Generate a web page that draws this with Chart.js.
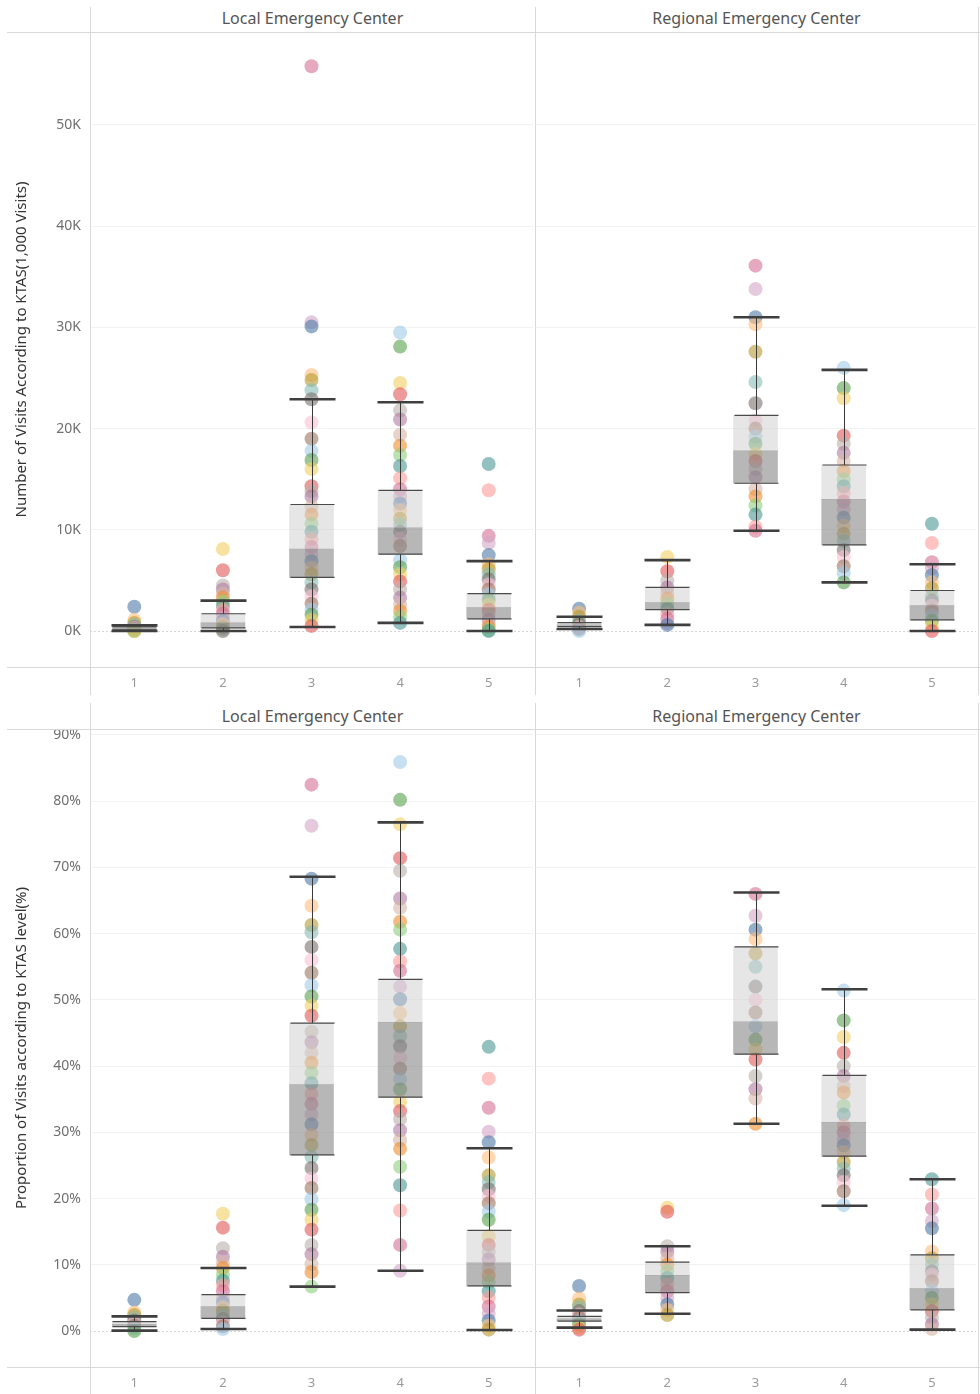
<!DOCTYPE html>
<html>
<head>
<meta charset="utf-8">
<script src="https://cdn.jsdelivr.net/npm/chart.js@4.4.1/dist/chart.umd.min.js"></script>
<style>
  body { margin: 0; background: #fff; font-family: 'Noto Sans', sans-serif; }
  #wrap { position: relative; width: 980px; height: 1394px; overflow: hidden; }
  .panel { position: absolute; }
  .hdr { position: absolute; height: 26px; line-height: 26px; text-align: center; font-size: 16px; color: #555; }
  .hl, .vl { position: absolute; background: #d9d9d9; z-index: 2; }
  .hl { height: 1px; }
  .vl { width: 1px; }
</style>
</head>
<body>
<div id="wrap">
  <div class="hdr" style="left:90px;top:5px;width:445px">Local Emergency Center</div>
  <div class="hdr" style="left:535px;top:5px;width:443px">Regional Emergency Center</div>
  <div class="hdr" style="left:90px;top:703px;width:445px">Local Emergency Center</div>
  <div class="hdr" style="left:535px;top:703px;width:443px">Regional Emergency Center</div>

  <div class="hl" style="left:7px;top:32px;width:973px"></div>
  <div class="hl" style="left:7px;top:667px;width:973px"></div>
  <div class="hl" style="left:7px;top:729px;width:973px"></div>
  <div class="hl" style="left:7px;top:1367px;width:973px"></div>
  <div class="vl" style="left:90px;top:7px;height:688px"></div>
  <div class="vl" style="left:535px;top:7px;height:688px"></div>
  <div class="vl" style="left:978px;top:7px;height:688px"></div>
  <div class="vl" style="left:90px;top:703px;height:691px"></div>
  <div class="vl" style="left:535px;top:703px;height:691px"></div>
  <div class="vl" style="left:978px;top:703px;height:691px"></div>

  <div class="panel" style="left:0;top:22px"><canvas id="visitsLocal" width="535" height="673"></canvas></div>
  <div class="panel" style="left:535px;top:22px"><canvas id="visitsRegional" width="445" height="673"></canvas></div>
  <div class="panel" style="left:0;top:719px"><canvas id="shareLocal" width="535" height="675"></canvas></div>
  <div class="panel" style="left:535px;top:719px"><canvas id="shareRegional" width="445" height="675"></canvas></div>
</div>

<script>
// KTAS levels on the x axis
const ktasLevels = ['1', '2', '3', '4', '5'];

// Number of visits per hospital, one list per KTAS level
const visitsLocal = [
    [2400, 1100, 800, 600, 400, 300, 200, 100, 0, 0],
    [8100, 6000, 4500, 4100, 3700, 3300, 2900, 2500, 2100, 1700, 1300, 1000, 700, 400, 200, 0],
    [55800, 30500, 30100, 25300, 24800, 23800, 22900, 20600, 19000, 17800, 16900, 16000, 14300, 13800, 13300, 12300, 11500, 10600, 9800, 9100, 8300, 7600, 6900, 6200, 5600, 4800, 4100, 3400, 2700, 2100, 1600, 1100, 500],
    [29500, 28100, 24500, 23400, 21800, 20900, 19400, 18300, 17400, 16300, 15100, 14000, 13300, 12600, 11900, 11100, 10500, 9800, 9100, 8400, 7000, 6300, 5600, 4900, 4100, 3300, 2600, 2000, 1400, 800],
    [16500, 13900, 9400, 8700, 7500, 6600, 6100, 5600, 5100, 4600, 4100, 3600, 3100, 2600, 2100, 1600, 1100, 700, 400, 100, 0]
];
const visitsRegional = [
    [2200, 1800, 1400, 1000, 700, 400, 200, 0],
    [7300, 5900, 5000, 4300, 3700, 3200, 2700, 2200, 1700, 1200, 800, 600],
    [36100, 33800, 31000, 30300, 27600, 24600, 22500, 20800, 20000, 19200, 18500, 17500, 16800, 16000, 15200, 14000, 13300, 12400, 11500, 10300, 9900],
    [26000, 24000, 23000, 19300, 18500, 17600, 16800, 15800, 15000, 14300, 13600, 12800, 12000, 11200, 10400, 9600, 8900, 8000, 7300, 6400, 5700, 4800],
    [10600, 8700, 6800, 6200, 5500, 4800, 4200, 3400, 3000, 2500, 2000, 1500, 1000, 500, 0]
];

// Box statistics per KTAS level: [lower whisker, Q1, median, Q3, upper whisker]
const visitsLocalBox = [
    [0, 100, 250, 400, 550],
    [0, 300, 800, 1700, 3000],
    [400, 5300, 8100, 12500, 22900],
    [800, 7600, 10200, 13900, 22600],
    [0, 1200, 2300, 3700, 6900]
];
const visitsRegionalBox = [
    [200, 430, 600, 820, 1410],
    [600, 2100, 2800, 4300, 7000],
    [9900, 14600, 17800, 21300, 31000],
    [4800, 8500, 13000, 16400, 25800],
    [0, 1100, 2500, 4000, 6600]
];

// Proportion of visits (%) per hospital, one list per KTAS level
const shareLocal = [
    [4.7, 2.8, 2.4, 2.0, 1.6, 1.2, 0.8, 0.4, 0.0],
    [17.7, 15.6, 12.5, 11.2, 10.3, 9.5, 8.5, 7.6, 6.9, 6.0, 5.0, 4.3, 3.6, 3.0, 2.4, 1.8, 1.2, 0.7, 0.3],
    [82.5, 76.3, 68.3, 64.2, 61.3, 60.2, 58.0, 56.0, 54.1, 52.2, 50.5, 49.1, 47.6, 45.2, 43.6, 42.0, 40.5, 39.0, 37.4, 35.8, 34.3, 32.7, 31.2, 29.6, 28.1, 26.3, 24.6, 23.0, 21.6, 19.9, 18.3, 16.8, 15.3, 13.0, 11.6, 10.1, 8.9, 6.7],
    [85.9, 80.2, 76.5, 71.4, 69.5, 65.3, 63.9, 61.8, 60.6, 57.7, 55.8, 54.4, 52.0, 50.1, 48.0, 46.0, 44.5, 43.0, 41.2, 39.6, 38.0, 36.5, 34.6, 33.2, 32.0, 30.3, 28.8, 27.5, 24.8, 22.0, 18.2, 13.0, 9.1],
    [42.9, 38.1, 33.7, 30.1, 28.5, 26.2, 23.5, 22.5, 21.4, 20.4, 19.3, 18.0, 16.8, 14.3, 13.0, 11.9, 10.8, 9.5, 8.4, 7.4, 6.0, 5.0, 3.7, 2.6, 1.6, 0.8, 0.2]
];
const shareRegional = [
    [6.8, 4.9, 4.0, 3.6, 3.0, 2.5, 2.0, 1.5, 1.0, 0.5, 0.2],
    [18.6, 18.0, 12.8, 12.0, 11.0, 10.0, 9.0, 8.0, 7.0, 6.0, 5.0, 4.0, 3.2, 2.4],
    [66.0, 62.7, 60.6, 59.2, 57.0, 55.0, 52.0, 50.0, 48.1, 46.0, 44.0, 42.5, 41.0, 38.5, 36.5, 35.1, 31.3],
    [51.4, 46.9, 44.4, 42.0, 40.0, 38.5, 37.0, 36.0, 34.0, 32.7, 31.0, 30.0, 29.0, 28.0, 27.0, 25.5, 24.5, 23.5, 22.5, 21.1, 19.0],
    [22.9, 20.6, 18.5, 16.6, 15.5, 12.0, 11.0, 10.0, 9.0, 8.5, 7.5, 6.0, 5.0, 4.0, 3.0, 2.0, 1.0, 0.3]
];
const shareLocalBox = [
    [0.05, 0.65, 1.0, 1.4, 2.2],
    [0.3, 1.9, 3.7, 5.5, 9.5],
    [6.7, 26.6, 37.2, 46.5, 68.6],
    [9.1, 35.3, 46.6, 53.1, 76.8],
    [0.15, 6.8, 10.3, 15.2, 27.6]
];
const shareRegionalBox = [
    [0.5, 1.5, 1.85, 2.2, 3.1],
    [2.6, 5.8, 8.4, 10.4, 12.8],
    [31.3, 41.8, 46.7, 58.0, 66.2],
    [18.9, 26.4, 31.5, 38.6, 51.6],
    [0.2, 3.2, 6.4, 11.5, 22.9]
];

// Axis ranges and tick values
const visitsRange = [-3560, 59190];
const visitsTicks = [0, 10000, 20000, 30000, 40000, 50000];
const shareRange = [-5.44, 90.9];
const shareTicks = [0, 10, 20, 30, 40, 50, 60, 70, 80, 90];

const palette = ['#4e79a7', '#a0cbe8', '#f28e2b', '#ffbe7d', '#59a14f', '#8cd17d', '#b6992d', '#f1ce63', '#499894', '#86bcb6',
    '#e15759', '#ff9d9a', '#79706e', '#bab0ac', '#d37295', '#fabfd2', '#b07aa1', '#d4a6c8', '#9d7660', '#d7b5a6'];

Chart.defaults.font.family = "'Noto Sans', sans-serif";
Chart.defaults.animation = false;

function withAlpha(hex, a) {
    const n = parseInt(hex.slice(1), 16);
    return `rgba(${(n >> 16) & 255}, ${(n >> 8) & 255}, ${n & 255}, ${a})`;
}

// whiskers, caps, box edges and the dotted zero line
const boxWhiskers = {
    id: 'boxWhiskers',
    beforeDatasetsDraw(chart) {
        const ctx = chart.ctx, area = chart.chartArea;
        const y0 = Math.round(chart.scales.y.getPixelForValue(0)) + 0.5;
        ctx.save();
        ctx.strokeStyle = '#d6d6d6';
        ctx.lineWidth = 1;
        ctx.setLineDash([2, 2]);
        ctx.beginPath();
        ctx.moveTo(area.left, y0);
        ctx.lineTo(area.right, y0);
        ctx.stroke();
        ctx.restore();
    },
    afterDatasetsDraw(chart, args, opts) {
        const ctx = chart.ctx, xs = chart.scales.x, ys = chart.scales.y;
        const half = opts.half || 22;
        ctx.save();
        opts.stats.forEach((s, i) => {
            const cx = Math.round(xs.getPixelForValue(i)) + 0.5;
            const [lo, q1, , q3, hi] = s.map(v => ys.getPixelForValue(v));
            // whisker stems
            ctx.strokeStyle = '#3a3a3a';
            ctx.lineWidth = 1;
            ctx.beginPath();
            ctx.moveTo(cx, q3); ctx.lineTo(cx, hi);
            ctx.moveTo(cx, q1); ctx.lineTo(cx, lo);
            ctx.stroke();
            // box edges
            ctx.strokeStyle = '#4a4a4a';
            ctx.lineWidth = 1.2;
            ctx.beginPath();
            ctx.moveTo(cx - half, q3); ctx.lineTo(cx + half, q3);
            ctx.moveTo(cx - half, q1); ctx.lineTo(cx + half, q1);
            ctx.stroke();
            // caps
            ctx.strokeStyle = '#3f3f3f';
            ctx.lineWidth = 2.6;
            ctx.beginPath();
            ctx.moveTo(cx - half - 1, hi); ctx.lineTo(cx + half + 1, hi);
            ctx.moveTo(cx - half - 1, lo); ctx.lineTo(cx + half + 1, lo);
            ctx.stroke();
        });
        ctx.restore();
    }
};

function makePanel(canvasId, values, stats, range, tickValues, fmt, title) {
    const points = [], colors = [];
    values.forEach((list, c) => {
        list.forEach((v, i) => {
            points.push({ x: ktasLevels[c], y: v });
            colors.push(withAlpha(palette[(i * 3 + c * 7) % palette.length], 0.6));
        });
    });

    const yAxis = {
        min: range[0],
        max: range[1],
        border: { display: false },
        grid: {
            drawTicks: false,
            color: ctx => ctx.tick && ctx.tick.value === 0 ? 'rgba(0,0,0,0)' : '#f2f2f2'
        },
        ticks: {
            padding: 9,
            color: '#6f6f6f',
            font: { size: 14 },
            callback: fmt,
            display: !!title
        },
        afterBuildTicks: s => { s.ticks = tickValues.map(v => ({ value: v })); },
        afterFit: s => {
            s.width = title ? 90 : 0;
            s.paddingTop = 0;
            s.paddingBottom = 0;
        }
    };
    if (title) {
        yAxis.title = {
            display: true,
            text: title,
            color: '#333',
            font: { size: 15 },
            padding: { top: 13, bottom: 0 }
        };
    }

    return new Chart(document.getElementById(canvasId).getContext('2d'), {
        type: 'bar',
        data: {
            labels: ktasLevels,
            datasets: [{
                type: 'scatter',
                data: points,
                backgroundColor: colors,
                borderWidth: 0,
                pointRadius: 7,
                order: 3
            }, {
                label: 'median-Q3',
                data: stats.map(s => [s[2], s[3]]),
                backgroundColor: 'rgba(205, 205, 205, 0.5)',
                barThickness: 44,
                grouped: false,
                order: 2
            }, {
                label: 'Q1-median',
                data: stats.map(s => [s[1], s[2]]),
                backgroundColor: 'rgba(135, 135, 135, 0.6)',
                barThickness: 44,
                grouped: false,
                order: 1
            }]
        },
        options: {
            responsive: false,
            layout: {
                autoPadding: false,
                padding: { top: 10, right: title ? 2 : 4, left: 0, bottom: 0 }
            },
            plugins: {
                legend: { display: false },
                tooltip: { enabled: false },
                boxWhiskers: { stats: stats, half: 22 }
            },
            scales: {
                x: {
                    border: { display: false },
                    grid: { display: false, drawTicks: false },
                    ticks: { color: '#9a9a9a', font: { size: 13 }, padding: 8 },
                    afterFit: s => {
                        s.height = canvasId.startsWith('visits') ? 28 : 27;
                        s.paddingLeft = 0;
                        s.paddingRight = 0;
                    }
                },
                y: yAxis
            }
        },
        plugins: [boxWhiskers]
    });
}

const fmtK = v => (v / 1000) + 'K';
const fmtPct = v => v + '%';

makePanel('visitsLocal', visitsLocal, visitsLocalBox, visitsRange, visitsTicks, fmtK,
    'Number of Visits According to KTAS(1,000 Visits)');
makePanel('visitsRegional', visitsRegional, visitsRegionalBox, visitsRange, visitsTicks, fmtK, null);
makePanel('shareLocal', shareLocal, shareLocalBox, shareRange, shareTicks, fmtPct,
    'Proportion of Visits according to KTAS level(%)');
makePanel('shareRegional', shareRegional, shareRegionalBox, shareRange, shareTicks, fmtPct, null);
</script>
</body>
</html>
